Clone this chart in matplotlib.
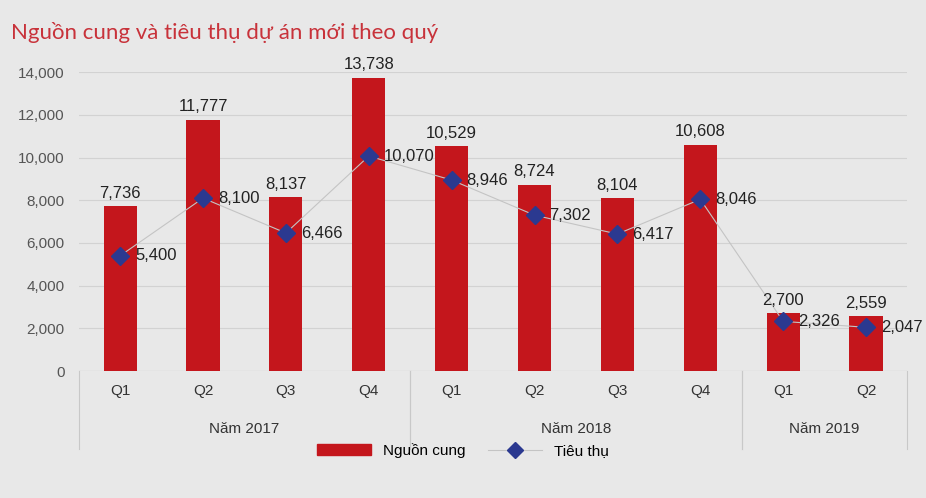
import matplotlib.pyplot as plt
from matplotlib.lines import Line2D
from matplotlib.patches import Patch
import numpy as np

quarters = ['Q1', 'Q2', 'Q3', 'Q4', 'Q1', 'Q2', 'Q3', 'Q4', 'Q1', 'Q2']
years = ['Năm 2017', 'Năm 2018', 'Năm 2019']
year_sizes = [4, 4, 2]
supply = [7736, 11777, 8137, 13738, 10529, 8724, 8104, 10608, 2700, 2559]
sold = [5400, 8100, 6466, 10070, 8946, 7302, 6417, 8046, 2326, 2047]

bg = '#e8e8e8'
red = '#c4161c'
navy = '#2b3990'
line_col = '#c4c4c4'

plt.rcParams['font.family'] = ['Liberation Sans', 'DejaVu Sans']

fig = plt.figure(figsize=(9.26, 4.98), dpi=100, facecolor=bg)
ax = fig.add_axes([0.085, 0.255, 0.895, 0.6], facecolor=bg)

x = np.arange(len(supply))
ax.bar(x, supply, width=0.4, color=red, zorder=2)
ax.plot(x, sold, color=line_col, linewidth=0.8, marker='D', markersize=9,
        markerfacecolor=navy, markeredgecolor=navy, zorder=3)

for xi, v in zip(x, supply):
    ax.text(xi, v + 250, f'{v:,}', ha='center', va='bottom', fontsize=12, color='#222222')
for xi, v in zip(x, sold):
    ax.text(xi + 0.18, v, f'{v:,}', ha='left', va='center', fontsize=12, color='#222222')

ax.set_xlim(-0.5, len(supply) - 0.5)
ax.set_ylim(0, 14000)
ax.set_yticks(np.arange(0, 14001, 2000))
ax.set_yticklabels([f'{v:,}' for v in range(0, 14001, 2000)], fontsize=11, color='#555555')
ax.grid(axis='y', color='#d2d2d2', linewidth=0.8, zorder=0)
ax.set_xticks([])
for s in ax.spines.values():
    s.set_visible(False)
ax.axhline(0, color='#c8c8c8', linewidth=0.8, zorder=1)
ax.tick_params(axis='y', length=0, pad=10)

# category labels
for xi, q in zip(x, quarters):
    ax.text(xi, -0.045, q, transform=ax.get_xaxis_transform(), ha='center', va='top',
            fontsize=11, color='#333333')
start = 0
for name, n in zip(years, year_sizes):
    mid = start + (n - 1) / 2
    ax.text(mid, -0.17, name, transform=ax.get_xaxis_transform(), ha='center', va='top',
            fontsize=11, color='#333333')
    for edge in (start - 0.5, start + n - 0.5):
        ax.plot([edge, edge], [0, -0.26], transform=ax.get_xaxis_transform(),
                color='#c8c8c8', linewidth=0.8, clip_on=False)
    start += n

fig.text(0.012, 0.935, 'Nguồn cung và tiêu thụ dự án mới theo quý', fontsize=16,
         color='#c8323a', family=['Lato', 'DejaVu Sans'], va='center')

handles = [Patch(color=red, label='Nguồn cung'),
           Line2D([0], [0], color=line_col, linewidth=0.8, marker='D', markersize=8,
                  markerfacecolor=navy, markeredgecolor=navy, label='Tiêu thụ')]
fig.legend(handles=handles, loc='center', bbox_to_anchor=(0.5, 0.095), ncol=2, frameon=False,
           fontsize=11, handlelength=3.5, columnspacing=1.5)

plt.savefig('out.png', dpi=100, facecolor=bg)
